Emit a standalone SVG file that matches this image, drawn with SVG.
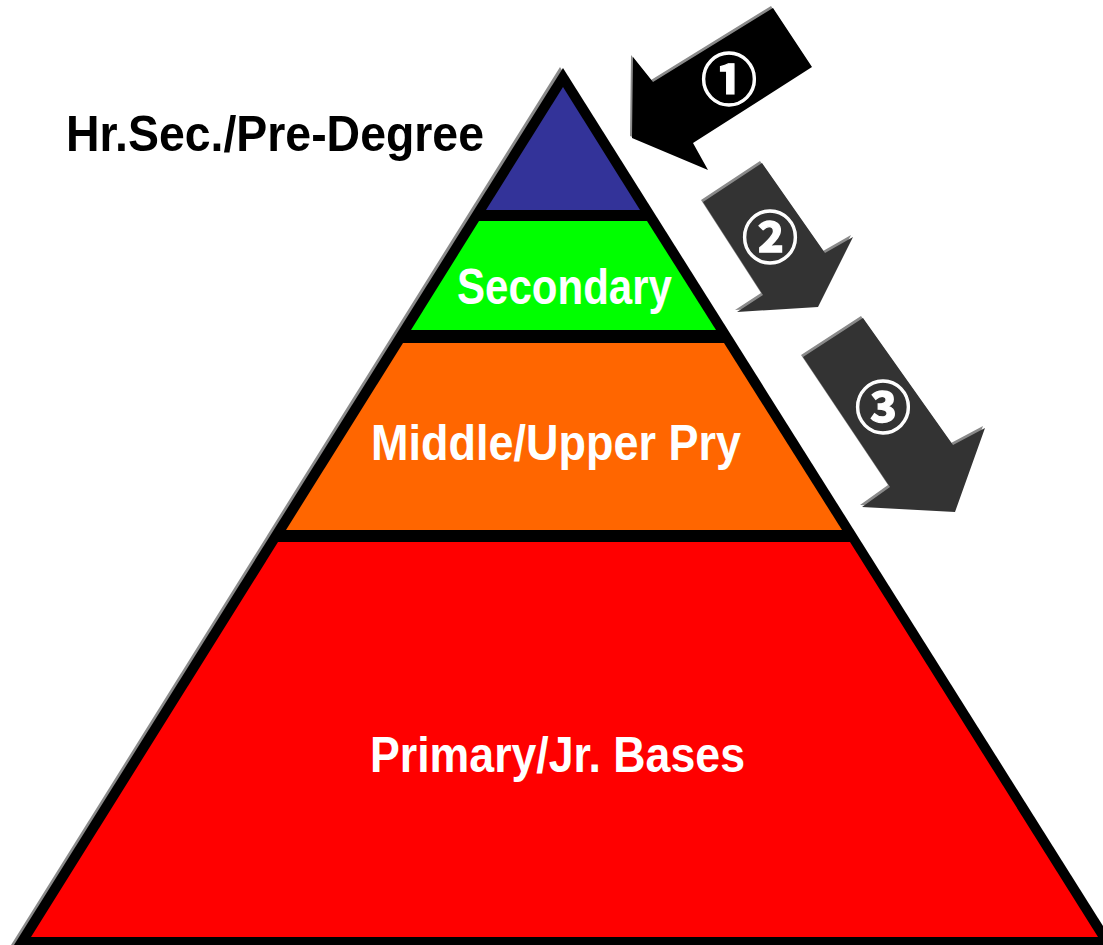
<svg xmlns="http://www.w3.org/2000/svg" width="1103" height="945" viewBox="0 0 1103 945">
  <style>
    .lbl { font-family: "Liberation Sans", "DejaVu Sans", sans-serif; font-weight: bold; }
    .wht { fill: #ffffff; }
    .blk { fill: #000000; }
    .num { font-family: "Noto Sans CJK JP", "DejaVu Sans", sans-serif; font-weight: bold; fill: #ffffff; stroke: #ffffff; stroke-width: 1.3; text-anchor: middle; }
    .shadow { fill: #8a8a8a; }
  </style>
  <rect width="1103" height="945" fill="#ffffff"/>
  <g id="pyramid-frame">
    <polygon class="shadow" points="560,67 11,945 1112,945"/>
    <polygon fill="#000000" points="563,68 14,945 1115,945"/>
  </g>
  <g id="node-hrsec">
    <polygon fill="#333399" points="563,87 486,210 640,210"/>
    <text class="lbl blk" x="66" y="151" font-size="50" textLength="418" lengthAdjust="spacingAndGlyphs">Hr.Sec./Pre-Degree</text>
  </g>
  <g id="node-secondary">
    <polygon fill="#00ff00" points="479,221 647,221 716,330 411,330"/>
    <text class="lbl wht" x="457" y="304" font-size="50" textLength="215" lengthAdjust="spacingAndGlyphs">Secondary</text>
  </g>
  <g id="node-middle">
    <polygon fill="#ff6600" points="403,343 724,343 842,530 286,530"/>
    <text class="lbl wht" x="371" y="460" font-size="50" textLength="370" lengthAdjust="spacingAndGlyphs">Middle/Upper Pry</text>
  </g>
  <g id="node-primary">
    <polygon fill="#ff0000" points="278,542 850,542 1098,937 31,937"/>
    <text class="lbl wht" x="370" y="772" font-size="50" textLength="375" lengthAdjust="spacingAndGlyphs">Primary/Jr. Bases</text>
  </g>
  <g id="connectors">
    <g id="arrow-1">
      <polygon class="shadow" points="771,6 810,65 691,141 706,168 630,136 631,55 651,80"/>
      <polygon fill="#000000" points="773,8 812,67 693,143 708,170 632,138 633,57 653,82"/>
      <text class="num" x="729" y="100" font-size="56">①</text>
    </g>
    <g id="arrow-2">
      <polygon class="shadow" points="701,200 760,161 823,251 851,235 816,305 735,310 761,293"/>
      <polygon fill="#333333" points="703,202 762,163 825,253 853,237 818,307 737,312 763,295"/>
      <text class="num" x="770" y="258" font-size="56">②</text>
    </g>
    <g id="arrow-3">
      <polygon class="shadow" points="801,355 861,316 951,443 983,426 953,510 860,505 888,485"/>
      <polygon fill="#333333" points="803,357 863,318 953,445 985,428 955,512 862,507 890,487"/>
      <text class="num" x="883" y="428" font-size="56">③</text>
    </g>
  </g>
</svg>
